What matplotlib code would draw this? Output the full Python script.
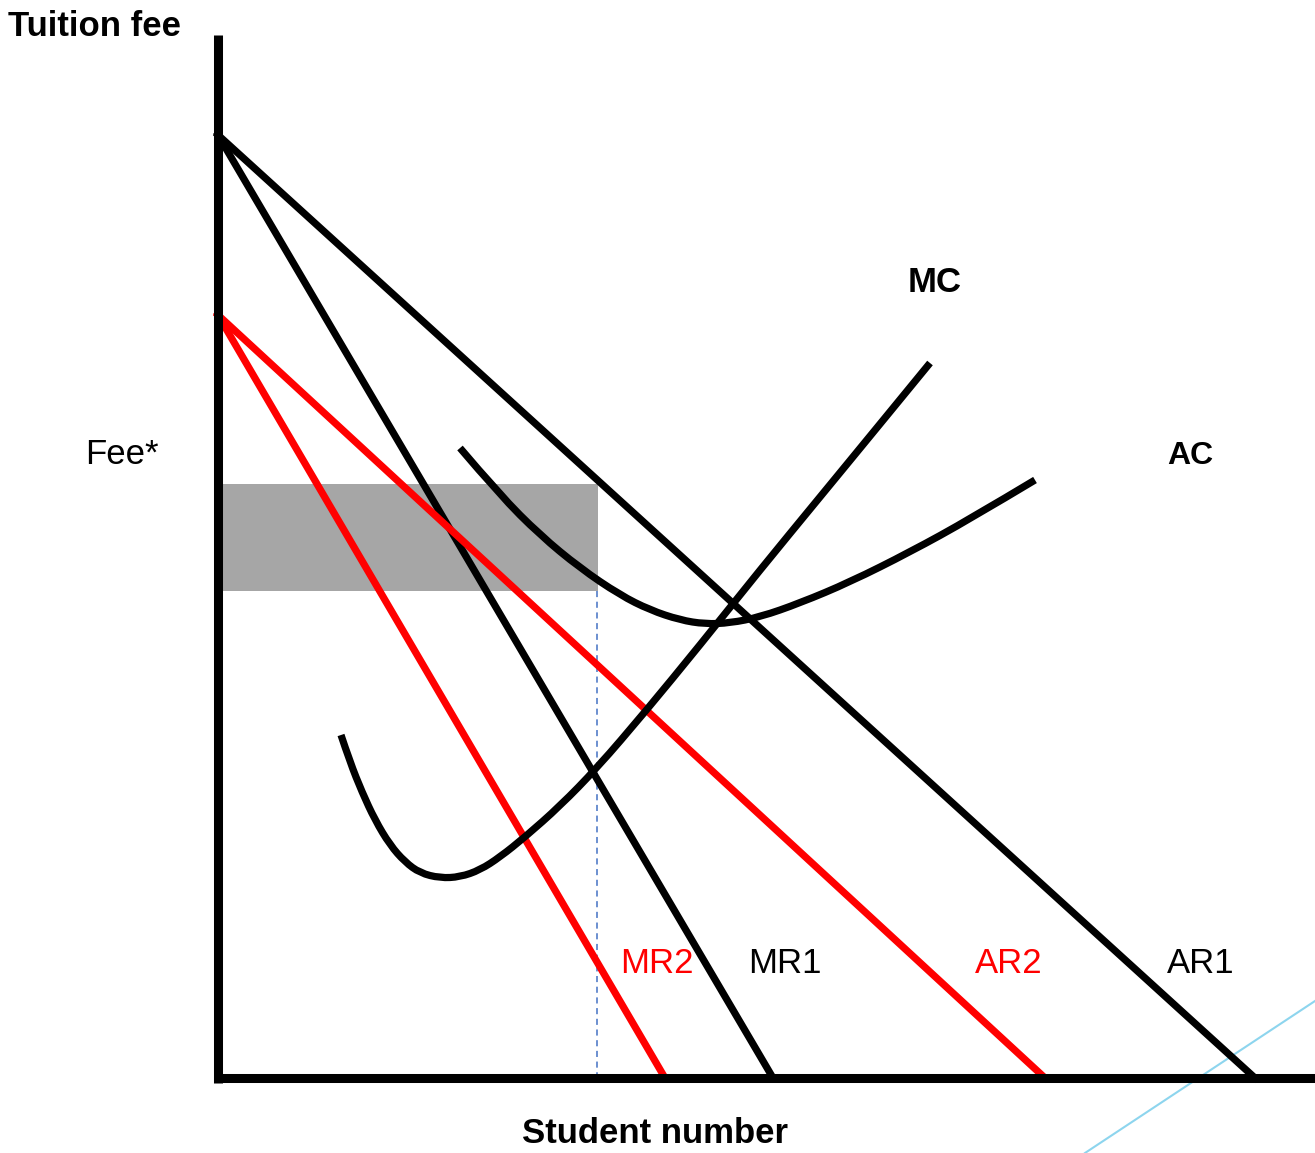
import matplotlib.pyplot as plt
from matplotlib.patches import Rectangle, PathPatch
from matplotlib.path import Path

# chart values (pixel-like units, y grows downward)
fee_top = 135          # where AR1/MR1 start on the fee axis
fee_top2 = 315         # where AR2/MR2 start
ar1_end = 1255
mr1_end = 773
ar2_end = 1045
mr2_end = 665
x_axis = 1078
y_axis = 218

q_star = 597
fee_star = 484
ac_star = 591

mc_x = [341, 350, 362, 375, 390, 405, 420, 440, 460, 480, 500, 525, 560, 597, 645, 700, 760, 820, 880, 930]
mc_y = [735, 762, 792, 820, 845, 862, 873, 878, 877, 870, 857, 837, 806, 768, 712, 645, 570, 497, 424, 363]

ac_x = [460, 500, 540, 580, 620, 650, 680, 705, 730, 760, 800, 850, 910, 970, 1035]
ac_y = [448, 495, 535, 568, 595, 610, 620, 624, 623, 617, 603, 582, 552, 519, 480]

curve_labels = ['MR2', 'MR1', 'AR2', 'AR1']
curve_label_x = [620, 748, 975, 1167]
curve_label_col = ['red', 'black', 'red', 'black']

plt.rcParams['font.family'] = ['Liberation Sans', 'DejaVu Sans']


def smooth_path(xs, ys):
    # quadratic b-spline style path through the read points
    pts = list(zip(xs, ys))
    verts = [pts[0]]
    codes = [Path.MOVETO]
    for i in range(1, len(pts) - 1):
        mid = ((pts[i][0] + pts[i + 1][0]) / 2, (pts[i][1] + pts[i + 1][1]) / 2)
        if i == len(pts) - 2:
            mid = pts[-1]
        verts += [pts[i], mid]
        codes += [Path.CURVE3, Path.CURVE3]
    return Path(verts, codes)


fig = plt.figure(figsize=(13.15, 11.53), dpi=100)
ax = fig.add_axes([0, 0, 1, 1])
ax.set_xlim(0, 1315)
ax.set_ylim(1153, 0)
ax.axis('off')

# shaded profit area
ax.add_patch(Rectangle((y_axis + 4, fee_star), q_star - y_axis - 3, ac_star - fee_star,
                       color='#a6a6a6', lw=0, zorder=1))
ax.plot([q_star, q_star], [ac_star, x_axis], color='#4472c4', lw=1.1, ls=(0, (4, 3)), zorder=1)

# stray cyan line bottom right
ax.plot([1085, 1315], [1153, 1001], color='#8dd5ee', lw=1.5, zorder=1)

# demand / revenue lines
ax.plot([y_axis, ar1_end], [fee_top, x_axis], color='black', lw=5.2, zorder=3)
ax.plot([y_axis, mr1_end], [fee_top, x_axis], color='black', lw=5.2, zorder=3)
ax.plot([y_axis, ar2_end], [fee_top2, x_axis], color='red', lw=5.2, zorder=3)
ax.plot([y_axis, mr2_end], [fee_top2, x_axis], color='red', lw=5.2, zorder=3)

# cost curves
for cx, cy in [(mc_x, mc_y), (ac_x, ac_y)]:
    ax.add_patch(PathPatch(smooth_path(cx, cy), facecolor='none', edgecolor='black',
                           lw=5.2, capstyle='butt', joinstyle='round', zorder=4))

# axes
ax.plot([y_axis, y_axis], [35, x_axis + 5], color='black', lw=6.5, solid_capstyle='butt', zorder=5)
ax.plot([y_axis - 4, 1315], [x_axis, x_axis], color='black', lw=6.5, solid_capstyle='butt', zorder=5)

ax.text(8, 36, 'Tuition fee', fontsize=25, fontweight='bold', va='baseline')
ax.text(655, 1143, 'Student number', fontsize=25, fontweight='bold', ha='center', va='baseline')
ax.text(85, 464, 'Fee*', fontsize=25, va='baseline')
ax.text(908, 292, 'MC', fontsize=25, fontweight='bold', va='baseline')
ax.text(1167, 464, 'AC', fontsize=23, fontweight='bold', va='baseline')
for lab, lx, c in zip(curve_labels, curve_label_x, curve_label_col):
    ax.text(lx, 973, lab, fontsize=25, color=c, va='baseline')

fig.savefig('out.png', dpi=100)
